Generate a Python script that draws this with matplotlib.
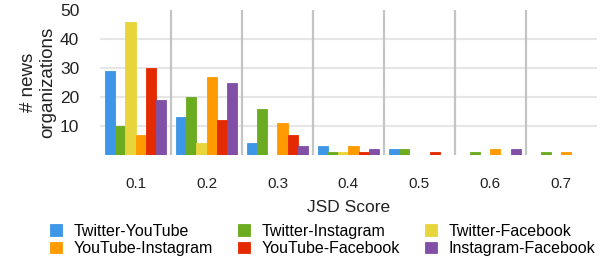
import matplotlib.pyplot as plt
import numpy as np

plt.rcParams['font.family'] = ['Liberation Sans', 'DejaVu Sans']

# JSD score bins
bins = ["0.1", "0.2", "0.3", "0.4", "0.5", "0.6", "0.7"]

# number of news organizations per platform pair
twitter_youtube = [29, 13, 4, 3, 2, 0, 0]
twitter_instagram = [10, 20, 16, 1, 2, 1, 1]
twitter_facebook = [46, 4, 0, 1, 0, 0, 0]
youtube_instagram = [7, 27, 11, 3, 0, 2, 1]
youtube_facebook = [30, 12, 7, 1, 1, 0, 0]
instagram_facebook = [19, 25, 3, 2, 0, 2, 0]

series = [
    ("Twitter-YouTube", twitter_youtube, "#3d97e6"),
    ("Twitter-Instagram", twitter_instagram, "#6aab1f"),
    ("Twitter-Facebook", twitter_facebook, "#e8d53b"),
    ("YouTube-Instagram", youtube_instagram, "#ff9b00"),
    ("YouTube-Facebook", youtube_facebook, "#e42a00"),
    ("Instagram-Facebook", instagram_facebook, "#8150a6"),
]

fig = plt.figure(figsize=(6.07, 2.65), dpi=100)
ax = fig.add_axes([0.165, 0.415, 0.818, 0.547])

x = np.arange(len(bins))
w = 0.86 / len(series)
handles = {}
for j, (name, vals, col) in enumerate(series):
    b = ax.bar(x + (j - 2.5) * w, vals, w, color=col, edgecolor=col,
               linewidth=0.6, zorder=3)
    handles[name] = b

# grid
for yv in [10, 20, 30, 40]:
    ax.axhline(yv, color="#e6e6e6", lw=1.5, zorder=1)
for xv in x[:-1] + 0.5:
    ax.axvline(xv, color="#c4c4c4", lw=1.6, zorder=1)

ax.set_xlim(-0.5, len(bins) - 0.5)
ax.set_ylim(0, 50)
ax.set_yticks([10, 20, 30, 40, 50])
ax.set_xticks(x)
ax.set_xticklabels(bins)
ax.tick_params(axis="y", length=0, labelsize=12.5, pad=15, colors="#222222")
ax.tick_params(axis="x", length=0, labelsize=11, pad=16, colors="#222222")
for s in ax.spines.values():
    s.set_visible(False)

ax.set_ylabel("# news\norganizations", fontsize=13.5, color="#222222",
              labelpad=3, linespacing=1.1)
ax.set_xlabel("JSD Score", fontsize=12.5, color="#222222", labelpad=6)

order = ["Twitter-YouTube", "YouTube-Instagram", "Twitter-Instagram",
         "YouTube-Facebook", "Twitter-Facebook", "Instagram-Facebook"]
fig.legend([handles[n] for n in order], order, ncol=3, frameon=False,
           loc="lower left", bbox_to_anchor=(0.058, -0.02), fontsize=11.5,
           handlelength=0.75, handleheight=0.75, handletextpad=0.75,
           columnspacing=1.55, labelspacing=0.15)

fig.savefig("out.png", dpi=100)
